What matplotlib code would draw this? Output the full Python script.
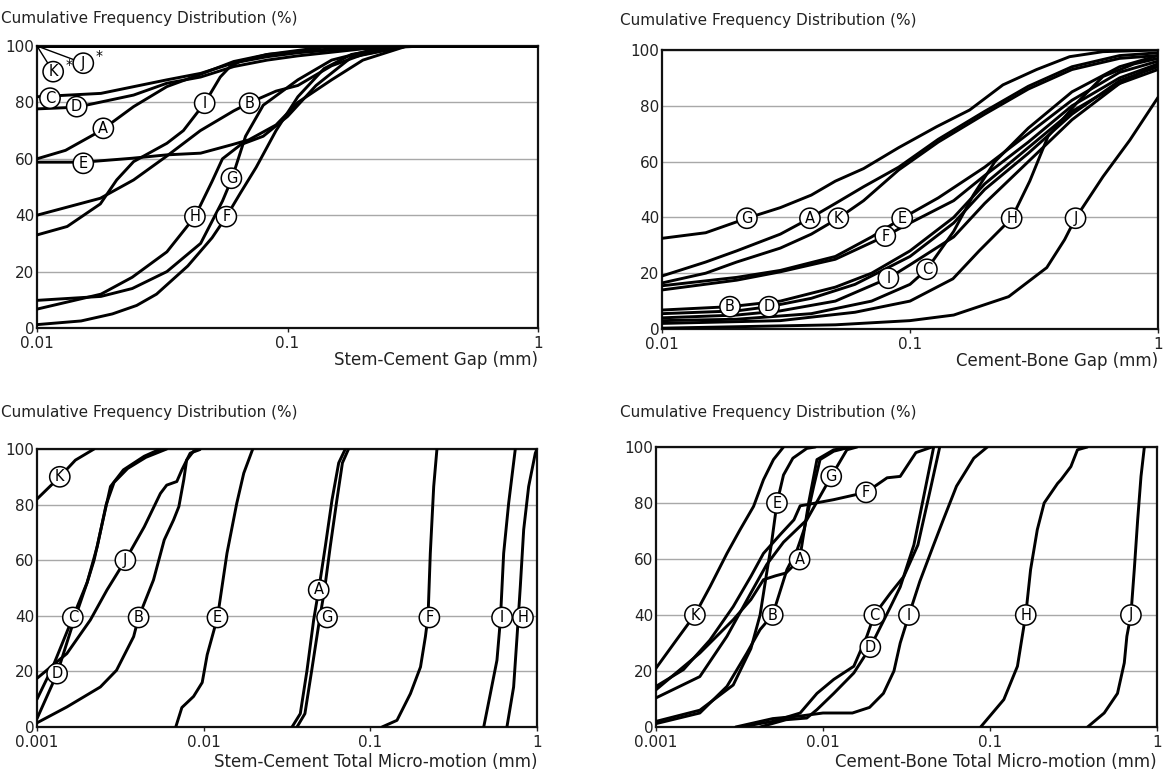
import matplotlib
matplotlib.use("Agg")
import matplotlib.pyplot as plt
from matplotlib.ticker import FixedLocator, NullLocator

# ---- data (x in mm, y in %) ----
y_ticks = [0, 20, 40, 60, 80, 100]

gap_x_ticks = [0.01, 0.1, 1]
gap_x_labels = ["0.01", "0.1", "1"]
motion_x_ticks = [0.001, 0.01, 0.1, 1]
motion_x_labels = ["0.001", "0.01", "0.1", "1"]

stem_gap = {
    "A": ([0.01, 0.013, 0.018, 0.0243, 0.033, 0.045, 0.061, 0.083, 0.15, 0.25],
          [60, 63, 70, 78.5, 85.6, 90, 94.5, 97, 99, 100]),
    "B": ([0.01, 0.0179, 0.0243, 0.033, 0.0449, 0.061, 0.071, 0.09, 0.11, 0.15, 0.2, 0.3],
          [40, 46, 52.5, 61, 70, 77, 80, 84, 86, 93, 97, 100]),
    "C": ([0.01, 0.018, 0.033, 0.045, 0.061, 0.083, 0.11, 0.2, 0.3],
          [82, 83.2, 88, 90.3, 94, 96.2, 97.6, 99.5, 100]),
    "D": ([0.01, 0.0144, 0.0243, 0.033, 0.045, 0.061, 0.083, 0.11, 0.2, 0.35],
          [77.7, 78.3, 82.6, 86.8, 89, 92.7, 95, 96.5, 99, 100]),
    "E": ([0.01, 0.0153, 0.024, 0.033, 0.045, 0.06, 0.07, 0.09, 0.11, 0.15, 0.2, 0.3],
          [58.8, 58.8, 60.2, 61.4, 62, 65, 66.7, 72, 80, 88, 95, 100]),
    "F": ([0.01, 0.015, 0.02, 0.025, 0.03, 0.04, 0.05, 0.057, 0.065, 0.075, 0.09, 0.11, 0.14, 0.18, 0.28],
          [1.2, 2.5, 5, 8, 12, 22, 32, 39.5, 48, 57, 70, 82, 92, 97, 100]),
    "G": ([0.01, 0.018, 0.024, 0.033, 0.045, 0.055, 0.06, 0.068, 0.08, 0.11, 0.15, 0.25],
          [9.8, 11.2, 14, 20, 30, 45, 53, 68, 79, 88, 95, 100]),
    "H": ([0.01, 0.018, 0.024, 0.033, 0.0427, 0.05, 0.055, 0.065, 0.08, 0.1, 0.13, 0.18, 0.3],
          [6.7, 12, 18, 27, 39.5, 52, 60, 65, 68, 75, 86, 96, 100]),
    "I": ([0.01, 0.0132, 0.0179, 0.0208, 0.0243, 0.033, 0.0384, 0.0469, 0.0539, 0.059, 0.0646, 0.083, 0.15],
          [33, 36, 44, 52.5, 59, 65.5, 70, 80, 89, 92.7, 94.5, 97, 100]),
    "J": ([0.01, 1], [100, 100]),
    "K": ([0.01, 1], [100, 100]),
}

bone_gap = {
    "A": ([0.01, 0.015, 0.02, 0.03, 0.0395, 0.05, 0.065, 0.09, 0.13, 0.2, 0.3, 0.45, 0.7, 1],
          [19, 24, 28, 34, 39.7, 45, 51, 58, 68, 78, 87, 94, 98, 99]),
    "B": ([0.01, 0.0188, 0.03, 0.05, 0.07, 0.1, 0.15, 0.2, 0.3, 0.45, 0.7, 1],
          [6.8, 8, 10, 15, 20, 28, 40, 52, 65, 78, 88, 93]),
    "C": ([0.01, 0.02, 0.04, 0.07, 0.1, 0.117, 0.15, 0.18, 0.22, 0.3, 0.45, 0.7, 1],
          [3, 3.5, 5.5, 10, 16, 21.4, 35, 48, 60, 72, 85, 94, 98]),
    "D": ([0.01, 0.02, 0.027, 0.04, 0.06, 0.1, 0.15, 0.2, 0.3, 0.45, 0.7, 1],
          [5.5, 6.5, 8, 11, 16, 26, 38, 50, 63, 77, 89, 94]),
    "E": ([0.01, 0.02, 0.03, 0.05, 0.07, 0.093, 0.13, 0.2, 0.3, 0.45, 0.7, 1],
          [15.5, 18.5, 21, 26, 33, 39.7, 47, 58, 70, 82, 92, 96]),
    "F": ([0.01, 0.02, 0.03, 0.05, 0.0795, 0.1, 0.15, 0.2, 0.3, 0.45, 0.7, 1],
          [14, 17.5, 20.5, 25, 33.3, 38, 46, 55, 67, 80, 90, 95]),
    "G": ([0.01, 0.015, 0.022, 0.03, 0.04, 0.05, 0.065, 0.09, 0.128, 0.174, 0.237, 0.324, 0.44, 0.6, 1],
          [32.5, 34.5, 39.7, 43.5, 48, 53, 57.5, 65, 72.5, 78.5, 87.5, 93, 97.6, 99.4, 100]),
    "H": ([0.01, 0.03, 0.06, 0.1, 0.149, 0.19, 0.257, 0.304, 0.36, 0.47, 0.6, 0.8, 1],
          [2, 3, 6, 10, 18, 28, 39.7, 53, 69, 81, 90.5, 95, 97]),
    "I": ([0.01, 0.02, 0.03, 0.05, 0.0818, 0.1, 0.15, 0.2, 0.3, 0.45, 0.7, 1],
          [4, 5, 6.5, 10, 18.2, 23, 33, 45, 60, 75, 88, 95]),
    "J": ([0.01, 0.05, 0.1, 0.15, 0.25, 0.356, 0.42, 0.465, 0.6, 0.77, 1],
          [0.3, 1.5, 3, 5, 11.6, 22, 32, 39.7, 54.6, 67.7, 83]),
    "K": ([0.01, 0.015, 0.02, 0.03, 0.04, 0.0514, 0.065, 0.09, 0.13, 0.2, 0.3, 0.45, 0.7, 1],
          [16.5, 20, 24, 29, 34, 39.7, 46, 57, 67, 77, 86, 93, 97, 98]),
}

stem_motion = {
    "A": ([0.0339, 0.038, 0.0417, 0.0457, 0.049, 0.0537, 0.0589, 0.0646, 0.0708],
          [0, 4.8, 20.4, 38.5, 49.3, 65, 81.7, 95, 100]),
    "B": ([0.001, 0.00151, 0.0024, 0.003, 0.0038, 0.00407, 0.005, 0.0058, 0.0066, 0.0071, 0.0076, 0.0079, 0.0087, 0.0095],
          [1.5, 7.2, 14.4, 20.4, 32.5, 39.4, 52.9, 67.3, 74.5, 79.3, 89, 96, 99.2, 100]),
    "C": ([0.001, 0.00125, 0.00164, 0.002, 0.0022, 0.0025, 0.00276, 0.0033, 0.0044, 0.0055],
          [10, 22, 39.4, 52, 60, 75, 86.5, 92.5, 97.4, 100]),
    "D": ([0.001, 0.00132, 0.0016, 0.002, 0.0023, 0.0026, 0.0029, 0.0035, 0.0045, 0.006],
          [3, 19.2, 35, 52, 65, 80, 88, 93, 97, 100]),
    "E": ([0.0068, 0.0074, 0.0087, 0.0098, 0.0105, 0.0121, 0.0138, 0.0158, 0.0174, 0.0197],
          [0, 7, 11, 16, 26, 39.4, 62.5, 80.5, 91.3, 100]),
    "F": ([0.1175, 0.1445, 0.174, 0.2, 0.214, 0.222, 0.229, 0.24, 0.251],
          [0, 2.4, 12, 21.6, 32.5, 40, 62.5, 86.5, 100]),
    "G": ([0.0363, 0.0405, 0.0445, 0.0495, 0.053, 0.0575, 0.063, 0.068, 0.074],
          [0, 4.8, 20.4, 38.5, 49, 65, 81.7, 95, 100]),
    "H": ([0.66, 0.724, 0.759, 0.794, 0.832, 0.891, 0.977, 1.0],
          [0, 14.4, 32.5, 50.5, 71, 86.5, 98.5, 100]),
    "I": ([0.479, 0.525, 0.575, 0.603, 0.631, 0.676, 0.741],
          [0, 12, 24, 38.5, 62.5, 80.5, 100]),
    "J": ([0.001, 0.00151, 0.00209, 0.00263, 0.00339, 0.0044, 0.0055, 0.006, 0.0069, 0.0074, 0.0083, 0.0095],
          [17.5, 26.4, 38.5, 49.3, 60, 72, 84, 87, 88.3, 92.5, 98.5, 99.8]),
    "K": ([0.001, 0.00137, 0.0017, 0.0022],
          [82, 90, 96, 100]),
}

bone_motion = {
    "A": ([0.001, 0.00183, 0.0029, 0.0037, 0.0044, 0.0052, 0.006, 0.00724, 0.0082, 0.0092, 0.0116, 0.015],
          [13.3, 26.4, 38.3, 45.5, 52.6, 54, 55, 59.8, 80, 95.5, 99, 100]),
    "B": ([0.001, 0.00183, 0.00266, 0.0035, 0.0042, 0.005, 0.00608, 0.007, 0.0077, 0.0088, 0.0096, 0.0116, 0.0146],
          [1.2, 5, 14.5, 26.4, 34.8, 40.1, 56.2, 63.3, 70.5, 86, 95.5, 98.5, 100]),
    "C": ([0.0032, 0.005, 0.0073, 0.0092, 0.0116, 0.0153, 0.0183, 0.0203, 0.0254, 0.0305, 0.037, 0.044, 0.05],
          [0, 2, 5, 12, 17, 21.7, 32.4, 40.1, 47.9, 53.8, 65, 85, 100]),
    "D": ([0.0042, 0.006, 0.008, 0.0092, 0.0116, 0.0153, 0.0192, 0.0254, 0.029, 0.035, 0.04, 0.046],
          [0, 2.6, 3.2, 6.2, 12, 19.3, 28.5, 43, 50, 65, 82, 100]),
    "E": ([0.001, 0.00183, 0.0029, 0.0037, 0.0042, 0.0046, 0.0049, 0.0053, 0.0058, 0.0066, 0.008, 0.009],
          [2, 6, 15, 28, 40, 55, 65, 80, 90, 96, 99.5, 100]),
    "F": ([0.001, 0.00146, 0.0021, 0.0029, 0.0037, 0.0044, 0.0056, 0.0067, 0.0073, 0.008, 0.0116, 0.0181, 0.0242, 0.029, 0.036, 0.045],
          [14.5, 20.5, 31, 43, 53.8, 62, 69, 74, 79, 79.4, 81.2, 83.8, 89, 89.5, 98, 100]),
    "G": ([0.001, 0.00183, 0.00266, 0.0037, 0.0046, 0.0058, 0.008, 0.0096, 0.0112, 0.0139, 0.016],
          [10.4, 18, 32.4, 47.9, 58, 66, 74, 82.4, 89.5, 99, 100]),
    "H": ([0.0879, 0.121, 0.146, 0.156, 0.1637, 0.175, 0.192, 0.211, 0.254, 0.266, 0.305, 0.334, 0.383],
          [0, 9.8, 21.7, 32.4, 40.1, 56.2, 70.5, 80, 87, 88.3, 93, 99, 100]),
    "I": ([0.003, 0.005, 0.0075, 0.01, 0.015, 0.019, 0.023, 0.0266, 0.029, 0.0327, 0.038, 0.0456, 0.0525, 0.063, 0.08, 0.0964],
          [0, 3, 4, 5, 5, 7, 12, 20, 30, 40, 52, 64.5, 74, 86, 96, 100]),
    "J": ([0.384, 0.483, 0.58, 0.637, 0.66, 0.698, 0.731, 0.766, 0.802, 0.84],
          [0, 5, 12, 22.9, 32.4, 40.1, 56.2, 74, 89.5, 100]),
    "K": ([0.001, 0.00133, 0.00171, 0.00211, 0.00266, 0.00319, 0.00384, 0.0044, 0.00505, 0.0058],
          [21, 31.2, 40.1, 50.2, 62, 70.5, 78.8, 88.3, 95.5, 100]),
}

# label anchor points (x, y) on each panel
stem_gap_labels = {"C": (0.01127, 81.5), "D": (0.0144, 78.5), "A": (0.0184, 70.8),
                   "E": (0.0153, 58.4), "I": (0.0467, 79.7), "B": (0.0706, 79.7),
                   "G": (0.0597, 53.1), "H": (0.0427, 39.5), "F": (0.057, 39.5)}
stem_gap_star_labels = {"K": (0.0116, 90.9), "J": (0.0153, 93.9)}
bone_gap_labels = {"G": (0.022, 39.7), "A": (0.0395, 39.7), "K": (0.0514, 39.7),
                   "E": (0.093, 39.7), "F": (0.0795, 33.3), "I": (0.0818, 18.2),
                   "C": (0.117, 21.4), "B": (0.0188, 8), "D": (0.027, 8),
                   "H": (0.257, 39.7), "J": (0.465, 39.7)}
stem_motion_labels = {"K": (0.00137, 90), "C": (0.00164, 39.4), "D": (0.00132, 19.2),
                      "J": (0.00339, 60), "B": (0.00407, 39.4), "E": (0.0121, 39.4),
                      "A": (0.049, 49.3), "G": (0.055, 39.4), "F": (0.226, 39.4),
                      "I": (0.617, 39.4), "H": (0.824, 39.4)}
bone_motion_labels = {"K": (0.00171, 40), "E": (0.0053, 80), "B": (0.005, 40),
                      "A": (0.00724, 59.8), "G": (0.0112, 89.5), "F": (0.0181, 83.8),
                      "C": (0.0203, 40), "D": (0.0192, 28.5), "I": (0.0327, 40),
                      "H": (0.1637, 40), "J": (0.698, 40)}

title = "Cumulative Frequency Distribution (%)"

W, H = 1164, 776
fig = plt.figure(figsize=(W / 100, H / 100), dpi=100)
fig.patch.set_facecolor("white")


def px_rect(left, top, right, bottom):
    return [left / W, 1 - bottom / H, (right - left) / W, (bottom - top) / H]


def setup_axes(rect, xlim, xticks, xlabels):
    ax = fig.add_axes(rect)
    ax.set_xscale("log")
    ax.set_xlim(*xlim)
    ax.set_ylim(0, 100)
    ax.xaxis.set_major_locator(FixedLocator(xticks))
    ax.xaxis.set_minor_locator(NullLocator())
    ax.set_xticklabels(xlabels)
    ax.set_yticks(y_ticks)
    ax.tick_params(axis="y", length=0, pad=2, labelsize=11, colors="#222222")
    ax.tick_params(axis="x", length=3, width=1, pad=3, labelsize=11, colors="#222222")
    ax.yaxis.grid(True, color="#a8a8a8", lw=1)
    ax.set_axisbelow(True)
    for s in ax.spines.values():
        s.set_linewidth(1.6)
        s.set_color("#111111")
    return ax


def draw_panel(ax, curves, labels):
    for name, (xs, ys) in curves.items():
        ax.plot(xs, ys, color="black", lw=2.1, solid_joinstyle="round",
                solid_capstyle="round", clip_on=True, zorder=3)
    for name, (x, y) in labels.items():
        ax.text(x, y, name, ha="center", va="center", fontsize=10.5, zorder=5,
                bbox=dict(boxstyle="circle,pad=0.18", fc="white", ec="black", lw=1.1))


ax1 = setup_axes(px_rect(37, 46, 538, 328), (0.01, 1), gap_x_ticks, gap_x_labels)
draw_panel(ax1, stem_gap, stem_gap_labels)
for name, (x, y) in stem_gap_star_labels.items():
    ax1.plot([0.01, x], [100, y], color="black", lw=1, zorder=4, clip_on=False)
    ax1.text(x, y, name, ha="center", va="center", fontsize=10.5, zorder=5,
             bbox=dict(boxstyle="circle,pad=0.18", fc="white", ec="black", lw=1.1))
    ax1.annotate("*", (x, y), xytext=(9, 5), textcoords="offset points",
                 ha="left", va="center", fontsize=10, zorder=5)

ax2 = setup_axes(px_rect(662, 50, 1158, 329), (0.01, 1), gap_x_ticks, gap_x_labels)
draw_panel(ax2, bone_gap, bone_gap_labels)

ax3 = setup_axes(px_rect(37, 449, 537, 727), (0.001, 1), motion_x_ticks, motion_x_labels)
draw_panel(ax3, stem_motion, stem_motion_labels)

ax4 = setup_axes(px_rect(656, 447, 1157, 727), (0.001, 1), motion_x_ticks, motion_x_labels)
draw_panel(ax4, bone_motion, bone_motion_labels)

# titles and axis captions
fig.text(1 / W, 1 - 18 / H, title, ha="left", va="center", fontsize=11, color="#222222")
fig.text(620 / W, 1 - 20 / H, title, ha="left", va="center", fontsize=11, color="#222222")
fig.text(1 / W, 1 - 413 / H, title, ha="left", va="center", fontsize=11, color="#222222")
fig.text(620 / W, 1 - 413 / H, title, ha="left", va="center", fontsize=11, color="#222222")

fig.text(538 / W, 1 - 360 / H, "Stem-Cement Gap (mm)", ha="right", va="center",
         fontsize=12, color="#222222")
fig.text(1158 / W, 1 - 361 / H, "Cement-Bone Gap (mm)", ha="right", va="center",
         fontsize=12, color="#222222")
fig.text(537 / W, 1 - 762 / H, "Stem-Cement Total Micro-motion (mm)", ha="right",
         va="center", fontsize=12, color="#222222")
fig.text(1157 / W, 1 - 762 / H, "Cement-Bone Total Micro-motion (mm)", ha="right",
         va="center", fontsize=12, color="#222222")

fig.savefig("out.png", dpi=100, facecolor="white")
